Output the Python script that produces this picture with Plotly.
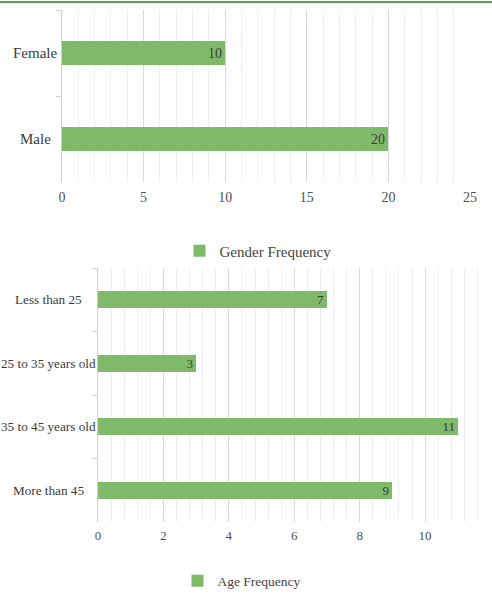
import plotly.graph_objects as go

gender_cats = ["Female", "Male"]
gender_vals = [10, 20]
age_cats = ["Less than 25", "25 to 35 years old", "35 to 45 years old", "More than 45"]
age_vals = [7, 3, 11, 9]

W, H = 492, 593
BAR = "#7fba6a"
FONT = "Liberation Serif"
DARK = "#3a3a3a"
TICK = "#505050"

fig = go.Figure()
fig.add_trace(go.Bar(
    x=gender_vals, y=gender_cats, orientation="h", name="Gender Frequency",
    marker=dict(color=BAR, line=dict(width=0)), width=0.27,
    text=gender_vals, textposition="inside", insidetextanchor="end", textangle=0,
    constraintext="none",
    textfont=dict(family=FONT, size=14, color=DARK),
    xaxis="x", yaxis="y", legend="legend", showlegend=True,
))
fig.add_trace(go.Bar(
    x=age_vals, y=age_cats, orientation="h", name="Age Frequency",
    marker=dict(color=BAR, line=dict(width=0)), width=0.27,
    text=age_vals, textposition="inside", insidetextanchor="end", textangle=0,
    constraintext="none",
    textfont=dict(family=FONT, size=13, color=DARK),
    xaxis="x2", yaxis="y2", legend="legend2", showlegend=True,
))

def py(px):
    return 1 - px / H

def pxx(px):
    return px / W

common_x = dict(
    showgrid=True, gridcolor="#d9d9d9", gridwidth=1, zeroline=False, automargin=False,
    showline=False, ticks="",
)
common_y = dict(
    type="category", autorange="reversed", showgrid=False, zeroline=False, automargin=False,
    showline=True, linecolor="#d0d0d0", linewidth=1, showticklabels=False,
    ticks="outside", tickson="boundaries", ticklen=5, tickcolor="#d0d0d0",
)

annotations = []
for c in gender_cats:
    annotations.append(dict(x=pxx(35), xref="paper", y=c, yref="y", text=c,
                            xanchor="center", yanchor="middle", showarrow=False,
                            font=dict(family=FONT, size=15, color=DARK)))
for c in age_cats:
    annotations.append(dict(x=pxx(48), xref="paper", y=c, yref="y2", text=c,
                            xanchor="center", yanchor="middle", showarrow=False,
                            font=dict(family=FONT, size=13.2, color=DARK)))

fig.update_layout(
    template="none",
    width=W, height=H, margin=dict(l=0, r=0, t=0, b=0, autoexpand=False),
    paper_bgcolor="white", plot_bgcolor="white",
    font=dict(family=FONT, size=12, color=DARK),
    bargap=0,
    xaxis=dict(domain=[pxx(62), pxx(470)], anchor="y", range=[0, 25], dtick=5,
               ticklabelstandoff=5,
               tickfont=dict(family=FONT, size=14, color=TICK),
               minor=dict(dtick=1, showgrid=True, gridcolor="#eeeeee"), **common_x),
    yaxis=dict(domain=[py(182), py(10)], anchor="x", **common_y),
    xaxis2=dict(domain=[pxx(98), pxx(490.5)], anchor="y2", range=[0, 12], dtick=2,
                ticklabelstandoff=4,
                tickfont=dict(family=FONT, size=13, color=TICK),
                minor=dict(dtick=0.4, showgrid=True, gridcolor="#eeeeee"), **common_x),
    yaxis2=dict(domain=[py(522), py(268)], anchor="x2", **common_y),
    legend=dict(x=pxx(258), y=py(251), xanchor="center", yanchor="middle",
                orientation="h", itemwidth=30,
                font=dict(family=FONT, size=15, color="#444444"),
                bgcolor="rgba(0,0,0,0)"),
    legend2=dict(x=pxx(242), y=py(581), xanchor="center", yanchor="middle",
                 orientation="h", itemwidth=30,
                 font=dict(family=FONT, size=13.5, color="#444444"),
                 bgcolor="rgba(0,0,0,0)"),
    annotations=annotations,
    shapes=[dict(type="line", xref="paper", yref="paper", x0=0, x1=1, y0=py(2), y1=py(2),
                 line=dict(color="#5f9c4c", width=2))],
)

fig.write_html("out.html", config={"displayModeBar": False},
               post_script="document.body.style.margin='0';")
